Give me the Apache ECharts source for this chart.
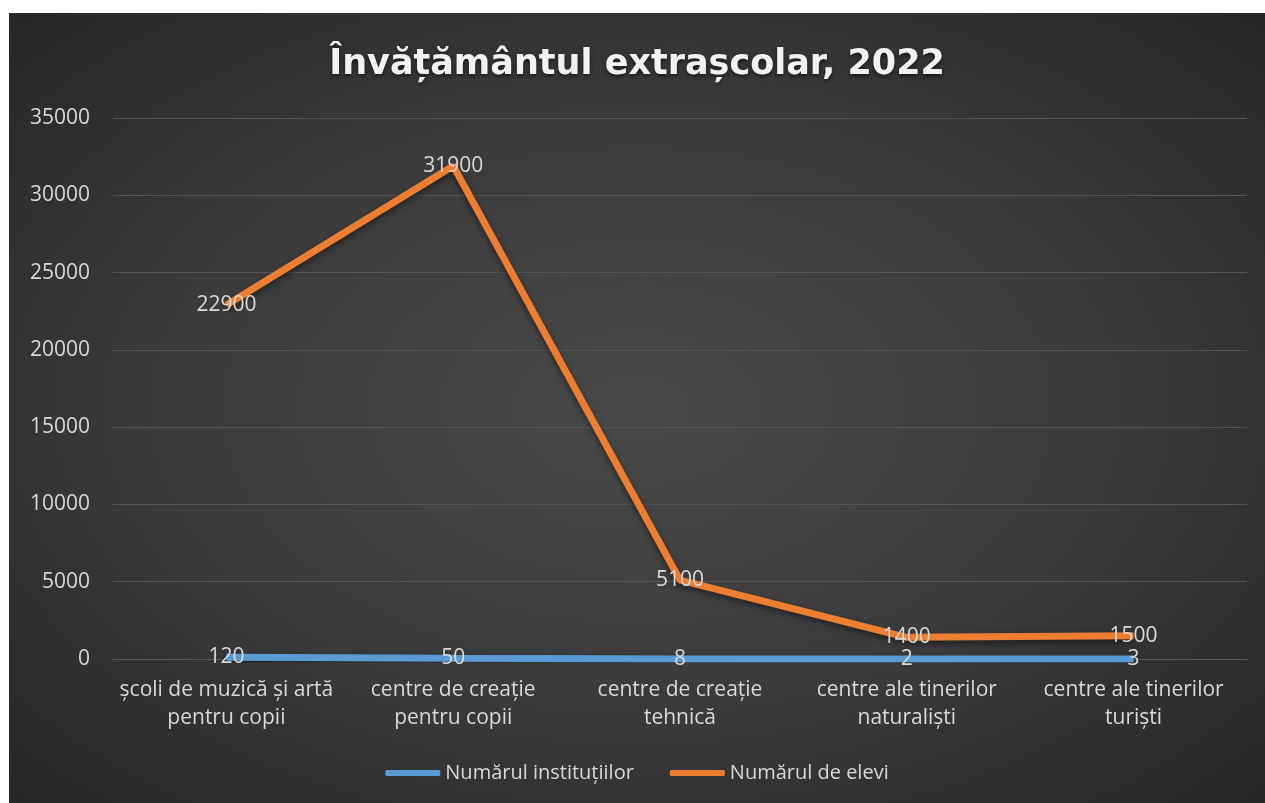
<!DOCTYPE html>
<html>
<head>
<meta charset="utf-8">
<script src="https://cdn.jsdelivr.net/npm/echarts@6/dist/echarts.min.js"></script>
<style>
  html, body { margin: 0; padding: 0; background: #ffffff; }
  #chart {
    position: absolute; left: 9px; top: 13px; width: 1256px; height: 790px;
    background: radial-gradient(ellipse at 50% 50%, #4a4a4a 0%, #3a3a3a 55%, #262626 100%);
  }
</style>
</head>
<body>
<div id="chart"></div>
<script>
// date
var categorii = ['școli de muzică și artă\npentru copii', 'centre de creație\npentru copii', 'centre de creație\ntehnică', 'centre ale tinerilor\nnaturaliști', 'centre ale tinerilor\nturiști'];
var institutii = [120, 50, 8, 2, 3];
var elevi = [22900, 31900, 5100, 1400, 1500];
var numeSerii = ['Numărul instituțiilor', 'Numărul de elevi'];

var textColor = '#d9d9d9';
var font = '"Open Sans", "Noto Sans", sans-serif';

var myChart = echarts.init(document.getElementById('chart'));
var label = {
    show: true,
    position: 'inside',
    color: textColor,
    fontSize: 21,
    fontFamily: font
};
var option = {
    title: {
        text: 'Învățământul extrașcolar, 2022',
        left: 'center',
        top: 29,
        textStyle: {
            color: '#f2f2f2',
            fontSize: 35,
            fontWeight: 'bold',
            fontFamily: '"DejaVu Sans", sans-serif',
            textShadowColor: 'rgba(0,0,0,0.6)',
            textShadowBlur: 4,
            textShadowOffsetY: 2
        }
    },
    legend: {
        bottom: 15,
        left: 'center',
        icon: 'roundRect',
        itemWidth: 55,
        itemHeight: 6,
        itemGap: 36,
        textStyle: { color: textColor, fontSize: 20, fontFamily: font },
        data: numeSerii
    },
    grid: { left: 104, right: 18, top: 105, bottom: 144 },
    xAxis: {
        type: 'category',
        data: categorii,
        boundaryGap: true,
        axisLine: { lineStyle: { color: '#555555' } },
        axisTick: { show: false },
        axisLabel: { color: textColor, fontSize: 21, fontFamily: font, lineHeight: 28, margin: 17, interval: 0 }
    },
    yAxis: {
        type: 'value',
        min: 0,
        max: 35000,
        interval: 5000,
        axisLine: { show: false },
        axisTick: { show: false },
        splitLine: { lineStyle: { color: '#555555', width: 1 } },
        axisLabel: {
            color: textColor, fontSize: 21, fontFamily: font, margin: 23,
            formatter: function (v) { return String(v); }
        }
    },
    series: [
        {
            name: numeSerii[0],
            type: 'line',
            data: institutii,
            symbol: 'circle',
            symbolSize: 1,
            lineStyle: { color: '#5b9bd5', width: 7, shadowColor: 'rgba(0,0,0,0.5)', shadowBlur: 6, shadowOffsetY: 3 },
            itemStyle: { color: '#5b9bd5' },
            label: label,
            z: 3
        },
        {
            name: numeSerii[1],
            type: 'line',
            data: elevi,
            symbol: 'circle',
            symbolSize: 1,
            lineStyle: { color: '#ed7d31', width: 7, shadowColor: 'rgba(0,0,0,0.5)', shadowBlur: 6, shadowOffsetY: 3 },
            itemStyle: { color: '#ed7d31' },
            label: label,
            z: 3
        }
    ]
};
myChart.setOption(option);
</script>
</body>
</html>
